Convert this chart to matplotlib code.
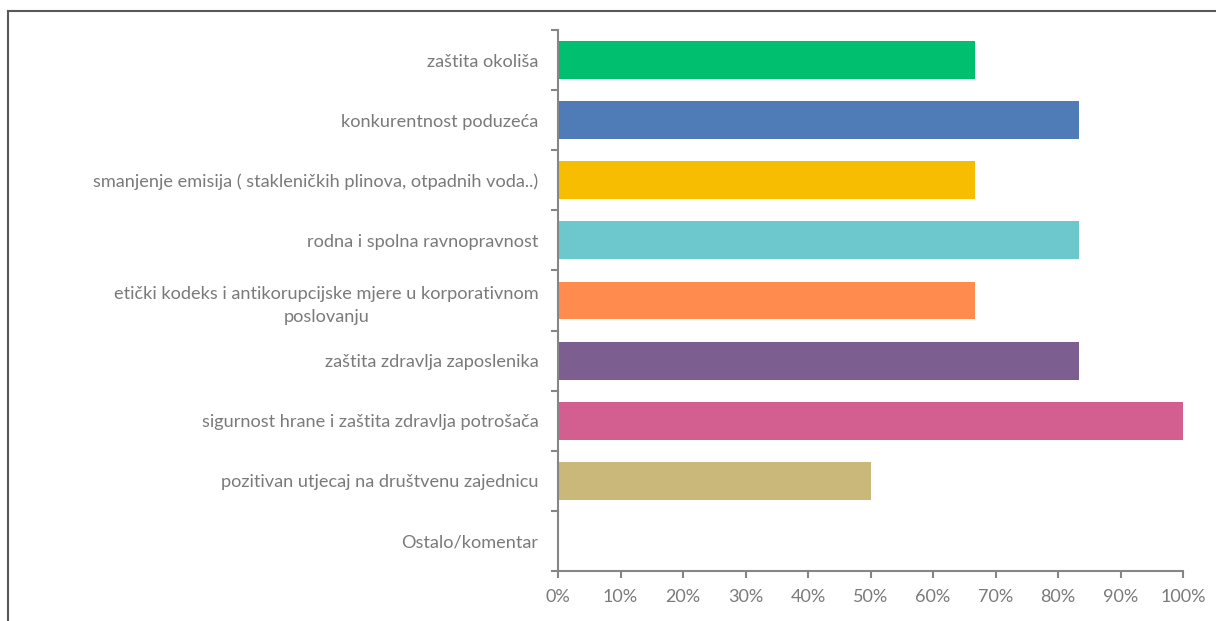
import matplotlib

matplotlib.use("Agg")

import matplotlib.pyplot as plt
from matplotlib.lines import Line2D
from matplotlib.ticker import FixedLocator, PercentFormatter

categories = [
    "zaštita okoliša",
    "konkurentnost poduzeća",
    "smanjenje emisija ( stakleničkih plinova, otpadnih voda..)",
    "rodna i spolna ravnopravnost",
    "etički kodeks i antikorupcijske mjere u korporativnom\nposlovanju",
    "zaštita zdravlja zaposlenika",
    "sigurnost hrane i zaštita zdravlja potrošača",
    "pozitivan utjecaj na društvenu zajednicu",
    "Ostalo/komentar",
]
shares = [66.67, 83.33, 66.67, 83.33, 66.67, 83.33, 100.0, 50.0, 0.0]
colors = [
    "#00bf6f", "#4f7cb6", "#f7bd00", "#6cc8cc", "#ff8b4f",
    "#7d5e91", "#d35f90", "#c9b87a", "#a0a0a0",
]
x_ticks = [0, 10, 20, 30, 40, 50, 60, 70, 80, 90, 100]

GREY = "#868686"
TEXT = "#7a7a7a"

plt.rcParams["font.family"] = ["Lato", "DejaVu Sans"]

fig = plt.figure(figsize=(12.16, 6.21), dpi=100)
ax = fig.add_axes([0.4589, 0.0805, 0.5140, 0.8712])

positions = list(range(len(categories)))
ax.barh(positions, shares, height=0.63, color=colors)

ax.set_xlim(0, 100)
ax.set_ylim(len(categories) - 0.5, -0.5)

ax.xaxis.set_major_locator(FixedLocator(x_ticks))
ax.xaxis.set_major_formatter(PercentFormatter(decimals=0))

# boundaries get the tick marks, centres get the labels
ax.yaxis.set_major_locator(FixedLocator([p - 0.5 for p in positions] + [len(categories) - 0.5]))
ax.yaxis.set_major_formatter(plt.NullFormatter())
ax.yaxis.set_minor_locator(FixedLocator(positions))
ax.set_yticklabels(categories, minor=True, multialignment="center", linespacing=1.5)

ax.tick_params(axis="x", which="major", length=5, width=1.5, color=GREY,
               labelcolor=TEXT, labelsize=13, pad=8)
ax.tick_params(axis="y", which="major", length=5, width=1.5, color=GREY)
ax.tick_params(axis="y", which="minor", length=0, labelcolor=TEXT,
               labelsize=13.1, pad=14)

for side in ["top", "right"]:
    ax.spines[side].set_visible(False)
for side in ["left", "bottom"]:
    ax.spines[side].set_color(GREY)
    ax.spines[side].set_linewidth(1.5)

# outer chart frame (only top and left edges are visible in the crop)
fig.add_artist(Line2D([0.0066, 0.0066], [0.0, 0.982], transform=fig.transFigure,
                      color="#595959", linewidth=1.5))
fig.add_artist(Line2D([0.0066, 1.0], [0.982, 0.982], transform=fig.transFigure,
                      color="#595959", linewidth=1.5))

fig.savefig("out.png", dpi=100)
plt.close(fig)
